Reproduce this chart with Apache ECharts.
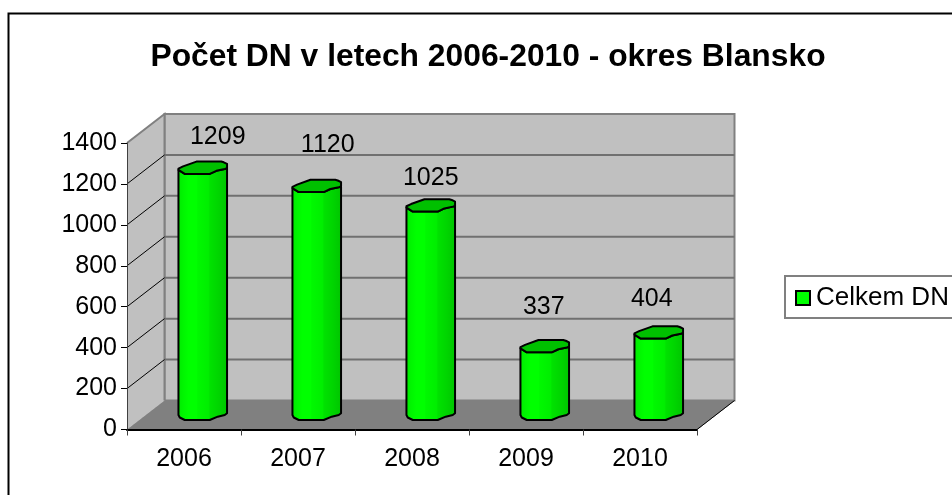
<!DOCTYPE html>
<html><head><meta charset="utf-8">
<style>html,body{margin:0;padding:0;background:#fff}#c{width:952px;height:495px}</style>
<script src="https://cdn.jsdelivr.net/npm/echarts@6/dist/echarts.min.js"></script>
</head><body><div id="c"></div>
<script>
const categories = ['2006','2007','2008','2009','2010'];
const values = [1209,1120,1025,337,404];
const yTicks = [0,200,400,600,800,1000,1200,1400];
const seriesName = 'Celkem DN';
const titleText = 'Počet DN v letech 2006-2010 - okres Blansko';

const FONT = '"Liberation Sans", Arial, sans-serif';
const DEPTH_X = 37.5, DEPTH_Y = 29;
// hand-placed label nudges seen in the reference, relative to cylinder top
const labelNudge = [[15,-30.5],[11,-40.5],[0,-27.5],[-1,-39],[-7,-33]];
// outline of the faceted cylinder cap and foot
const capFront = [[-24.3,2.3],[-18,6.3],[7,6.3],[13.6,3.2],[22,1.4],[24.3,0.7]];
const capBack = [[24.3,-3.7],[21,-5.3],[18.5,-6],[-6.3,-6],[-19.7,-1.2],[-24.3,1]];
const footFront = [[-24.3,0],[-23,2.5],[-18,5],[7,5],[15,1.7],[22,0],[24.3,-1.7]];

const chart = echarts.init(document.getElementById('c'), null, {renderer:'canvas'});

function renderWalls(params, api){
  const r = params.coordSys;
  const L=r.x, B=r.y+r.height, T=r.y, R=r.x+r.width;
  const y = api.coord([0, api.value(0)])[1];
  const children = [];
  const wall = {fill:'#c0c0c0', stroke:'#808080', lineWidth:2};
  if (params.dataIndex === 0) {
    children.push({type:'polygon', shape:{points:[[L,B],[L+DEPTH_X,B-DEPTH_Y],[R+DEPTH_X,B-DEPTH_Y],[R,B]]},
      style:{fill:'#808080', stroke:'#808080', lineWidth:1}});
    children.push({type:'polygon', shape:{points:[[L+DEPTH_X,B-DEPTH_Y],[L+DEPTH_X,T-DEPTH_Y],[R+DEPTH_X,T-DEPTH_Y],[R+DEPTH_X,B-DEPTH_Y]]},
      style:wall});
    children.push({type:'polygon', shape:{points:[[L,B],[L,T],[L+DEPTH_X,T-DEPTH_Y],[L+DEPTH_X,B-DEPTH_Y]]},
      style:{fill:'#c0c0c0', stroke:null}});
    children.push({type:'polyline', shape:{points:[[L,T],[L+DEPTH_X,T-DEPTH_Y],[L+DEPTH_X,B-DEPTH_Y]]},
      style:{fill:null, stroke:'#808080', lineWidth:2}});
    children.push({type:'line', shape:{x1:R,y1:B,x2:R+DEPTH_X,y2:B-DEPTH_Y},
      style:{stroke:'#000', lineWidth:1}});
  } else if (api.value(0) < 1400) {
    children.push({type:'line', shape:{x1:L+DEPTH_X,y1:y-DEPTH_Y,x2:R+DEPTH_X,y2:y-DEPTH_Y},
      style:{stroke:'#707070', lineWidth:2}});
    children.push({type:'line', shape:{x1:L,y1:y,x2:L+DEPTH_X,y2:y-DEPTH_Y},
      style:{stroke:'#000', lineWidth:1}});
  }
  return {type:'group', children};
}

function renderCylinder(params, api){
  const i = api.value(0);
  const base = api.coord([i, 0]);
  const top = api.coord([i, api.value(1)]);
  const cx = base[0] + DEPTH_X/2;
  const by = base[1] - DEPTH_Y/2;
  const ty = top[1] - DEPTH_Y/2;
  const at = (p, yy) => [cx+p[0], yy+p[1]];
  const frontTop = capFront.map(p=>at(p,ty));
  const frontBot = footFront.map(p=>at(p,by));
  const bodyPts = frontTop.concat(frontBot.slice().reverse());
  const capPts = frontTop.concat(capBack.map(p=>at(p,ty)));
  return {type:'group', children:[
    {type:'polygon', shape:{points:bodyPts},
      style:{fill:new echarts.graphic.LinearGradient(0,0,1,0,[
        {offset:0,color:'#00e800'},{offset:0.12,color:'#00f600'},{offset:0.22,color:'#00ff00'},
        {offset:0.38,color:'#00ff00'},{offset:0.4,color:'#00f800'},{offset:0.62,color:'#00ee00'},
        {offset:0.64,color:'#00e200'},{offset:0.8,color:'#00d600'},{offset:1,color:'#00c400'}]),
        stroke:'#000', lineWidth:2, lineJoin:'round'}},
    {type:'polygon', shape:{points:capPts},
      style:{fill:'#00c000', stroke:'#000', lineWidth:2, lineJoin:'round'}},
    {type:'text', style:{text:String(api.value(1)), x:cx+labelNudge[i][0], y:ty+labelNudge[i][1],
      align:'center', verticalAlign:'middle', font:'25px '+FONT, fill:'#000'}}
  ]};
}

chart.setOption({
  animation:false,
  backgroundColor:'#fff',
  title:{text:titleText, left:483, top:36, textAlign:'center',
    textStyle:{fontFamily:FONT, fontWeight:'bold', fontSize:31.8, color:'#000'}},
  legend:{left:785, top:276, orient:'vertical', padding:[9,10,7,10], data:[seriesName],
    backgroundColor:'#fff', borderColor:'#808080', borderWidth:2, borderRadius:0,
    itemWidth:14, itemHeight:14, itemGap:0, icon:'rect',
    itemStyle:{color:'#00ff00', borderColor:'#000', borderWidth:2},
    textStyle:{fontFamily:FONT, fontSize:26, color:'#000', padding:[0,0,0,1]}},
  grid:{left:127, top:143, width:570, height:286.5, containLabel:false},
  xAxis:{type:'category', data:categories, z:5,
    axisLine:{lineStyle:{color:'#000', width:2}},
    axisTick:{show:true, length:6, lineStyle:{color:'#404040', width:1}},
    axisLabel:{fontFamily:FONT, fontSize:25, color:'#000', margin:17}},
  yAxis:{type:'value', min:0, max:1400, interval:200, z:5,
    axisLine:{show:true, lineStyle:{color:'#404040', width:1}},
    axisTick:{show:true, length:6, lineStyle:{color:'#000', width:1}},
    axisLabel:{fontFamily:FONT, fontSize:25, color:'#000', margin:10, formatter:v=>String(v)},
    splitLine:{show:false}},
  series:[
    {type:'custom', name:'walls', silent:true, z:1, renderItem:renderWalls,
      data:yTicks.map(v=>[v]), encode:{y:0}, clip:false},
    {type:'custom', name:seriesName, z:2, renderItem:renderCylinder,
      itemStyle:{color:'#00ff00'}, clip:false,
      data:values.map((v,i)=>[i,v]), encode:{x:0,y:1}}
  ],
  graphic:[{type:'polyline', z:10, silent:true,
    shape:{points:[[8.5,495],[8.5,13.5],[952,13.5]]},
    style:{fill:null, stroke:'#000', lineWidth:2}}]
});
</script></body></html>
